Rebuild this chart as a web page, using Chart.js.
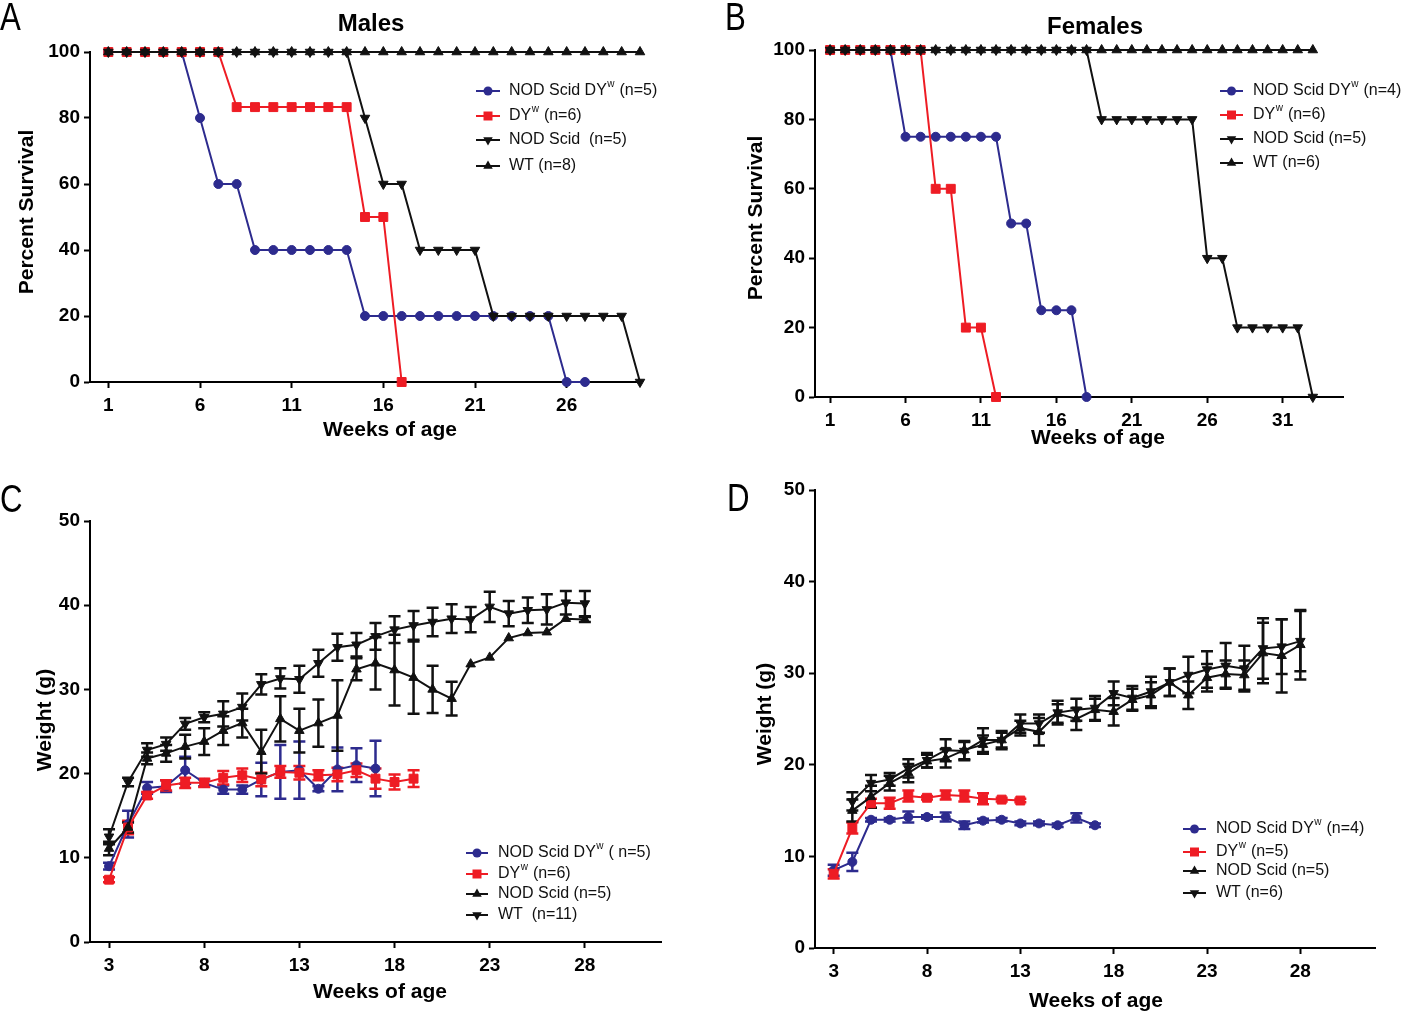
<!DOCTYPE html>
<html>
<head>
<meta charset="utf-8">
<script src="https://cdn.jsdelivr.net/npm/chart.js"></script>
<style>
  body { margin: 0; background: #fff; }
  #wrap { position: relative; width: 1418px; height: 1016px; }
  canvas { position: absolute; left: 0; top: 0; }
</style>
</head>
<body>
<div id="wrap">
  <canvas id="cA" width="1418" height="1016"></canvas>
  <canvas id="cB" width="1418" height="1016"></canvas>
  <canvas id="cC" width="1418" height="1016"></canvas>
  <canvas id="cD" width="1418" height="1016"></canvas>
</div>
<script>
const FONT = "'Liberation Sans', Arial, sans-serif";
const BLUE = '#2d2b8e', RED = '#ee1c24', BLACK = '#111111';

// ---- A: survival, males ----
const weeksA = [1,2,3,4,5,6,7,8,9,10,11,12,13,14,15,16,17,18,19,20,21,22,23,24,25,26,27,28,29,30];
const survA_nsdy = [100,100,100,100,100,80,60,60,40,40,40,40,40,40,20,20,20,20,20,20,20,20,20,20,20,0,0];
const survA_dy   = [100,100,100,100,100,100,100,83.3,83.3,83.3,83.3,83.3,83.3,83.3,50,50,0];
const survA_ns   = [100,100,100,100,100,100,100,100,100,100,100,100,100,100,80,60,60,40,40,40,40,20,20,20,20,20,20,20,20,0];
const survA_wt   = [100,100,100,100,100,100,100,100,100,100,100,100,100,100,100,100,100,100,100,100,100,100,100,100,100,100,100,100,100,100];
const legendA = ['NOD Scid DY^w (n=5)', 'DY^w (n=6)', 'NOD Scid  (n=5)', 'WT (n=8)'];

// ---- B: survival, females ----
const weeksB = [1,2,3,4,5,6,7,8,9,10,11,12,13,14,15,16,17,18,19,20,21,22,23,24,25,26,27,28,29,30,31,32,33];
const survB_nsdy = [100,100,100,100,100,75,75,75,75,75,75,75,50,50,25,25,25,0];
const survB_dy   = [100,100,100,100,100,100,100,60,60,20,20,0];
const survB_ns   = [100,100,100,100,100,100,100,100,100,100,100,100,100,100,100,100,100,100,80,80,80,80,80,80,80,40,40,20,20,20,20,20,0];
const survB_wt   = [100,100,100,100,100,100,100,100,100,100,100,100,100,100,100,100,100,100,100,100,100,100,100,100,100,100,100,100,100,100,100,100,100];
const legendB = ['NOD Scid DY^w (n=4)', 'DY^w (n=6)', 'NOD Scid (n=5)', 'WT (n=6)'];

const survTicksX_A = [1, 6, 11, 16, 21, 26];
const survTicksX_B = [1, 6, 11, 16, 21, 26, 31];
const survTicksY = [0, 20, 40, 60, 80, 100];

// ---- C: weight, males ----
const weeksC_nsdy = [3,4,5,6,7,8,9,10,11,12,13,14,15,16,17];
const wC_nsdy   = [9.0,14.0,18.3,18.5,20.4,18.9,18.1,18.1,19.3,20.2,20.4,18.2,20.5,21.0,20.6];
const errC_nsdy = [0.4,1.6,0.7,0.7,1.6,0.4,0.5,0.5,2.0,3.2,3.4,0.3,2.6,2.0,3.3];
const weeksC_dy = [3,4,5,6,7,8,9,10,11,12,13,14,15,16,17,18,19];
const wC_dy     = [7.4,13.6,17.4,18.6,18.9,18.9,19.5,19.8,19.3,20.2,20.1,19.8,19.9,20.4,19.4,19.0,19.4];
const errC_dy   = [0.3,0.8,0.4,0.6,0.6,0.5,0.8,0.8,0.8,0.7,0.8,0.6,0.8,0.8,1.2,0.9,1.0];
const weeksC_blk = [3,4,5,6,7,8,9,10,11,12,13,14,15,16,17,18,19,20,21,22,23,24,25,26,27,28];
const wC_ns     = [11.1,13.6,21.8,22.4,23.2,23.8,25.1,26.0,22.6,26.5,25.1,26.0,26.9,32.4,33.1,32.3,31.4,30.0,28.9,33.0,33.8,36.1,36.7,36.8,38.4,38.3];
const errC_ns   = [0.8,0.6,0.7,1.0,1.4,1.6,1.7,1.7,2.6,2.7,2.6,2.8,4.2,1.3,3.1,4.2,4.3,2.8,2.0,0,0,0,0,0,0,0.3];
const wC_wt     = [12.5,19.0,22.8,23.5,25.9,26.7,27.1,27.9,30.6,31.3,31.2,33.1,35.0,35.3,36.3,37.1,37.6,38.0,38.4,38.3,39.8,39.0,39.4,39.5,40.3,40.2];
const errC_wt   = [0.9,0.5,0.8,0.8,0.7,0.6,1.5,1.6,1.2,1.2,1.6,1.6,1.6,1.4,1.6,1.6,1.7,1.7,1.7,1.5,1.8,1.5,1.5,1.8,1.4,1.5];
const legendC = ['NOD Scid DY^w ( n=5)', 'DY^w (n=6)', 'NOD Scid (n=5)', 'WT  (n=11)'];

// ---- D: weight, females ----
const weeksD_nsdy = [3,4,5,6,7,8,9,10,11,12,13,14,15,16,17];
const wD_nsdy   = [8.5,9.4,14.0,14.0,14.3,14.3,14.3,13.4,13.9,14.0,13.6,13.6,13.4,14.2,13.4];
const errD_nsdy = [0.6,1.0,0.2,0.2,0.6,0.2,0.5,0.4,0.2,0.2,0.2,0.2,0.2,0.5,0.2];
const weeksD_dy = [3,4,5,6,7,8,9,10,11,12,13];
const wD_dy     = [8.1,13.1,15.8,15.8,16.6,16.4,16.7,16.6,16.3,16.2,16.1];
const errD_dy   = [0.5,0.6,0.5,0.6,0.6,0.2,0.5,0.6,0.6,0.2,0.2];
const weeksD_blk = [4,5,6,7,8,9,10,11,12,13,14,15,16,17,18,19,20,21,22,23,24,25,26,27,28];
const wD_ns     = [15.0,16.5,18.0,19.1,20.4,20.7,21.6,22.2,22.7,24.0,23.6,25.6,25.0,26.0,25.8,27.1,27.6,29.0,27.6,29.5,29.9,29.8,32.2,31.9,33.1];
const errD_ns   = [1.2,1.2,0.8,1.0,0.7,1.0,1.0,1.0,0.8,0.8,1.5,1.0,1.2,1.2,1.5,1.2,1.4,1.5,1.5,1.5,1.5,1.6,3.3,4.0,3.8];
const wD_wt     = [16.0,18.0,18.4,19.6,20.5,21.6,21.5,22.7,22.7,24.5,24.5,25.7,26.0,26.2,27.8,27.3,28.0,29.0,29.8,30.4,30.8,30.5,32.7,32.9,33.5];
const errD_wt   = [1.0,0.9,0.7,1.0,0.8,1.2,1.0,1.3,1.0,1.0,1.0,1.3,1.2,1.3,1.3,1.3,1.6,1.5,2.0,2.0,2.5,2.5,3.3,3.0,3.3];
const legendD = ['NOD Scid DY^w (n=4)', 'DY^w (n=5)', 'NOD Scid (n=5)', 'WT (n=6)'];

const weightTicksX = [3, 8, 13, 18, 23, 28];
const weightTicksY = [0, 10, 20, 30, 40, 50];

function pts(xs, ys) { return ys.map((y, i) => ({ x: xs[i], y: y })); }

function series(label, xs, ys, color, style, order, errors) {
  const ds = {
    label: label.replace('^', ''),
    data: pts(xs, ys),
    borderColor: color,
    backgroundColor: color,
    borderWidth: 2,
    pointStyle: style === 'down' ? 'triangle' : style,
    pointRotation: style === 'down' ? 180 : 0,
    pointRadius: style === 'circle' ? 4.5 : (style === 'rect' ? 6.3 : 5.5),
    pointBorderWidth: 1,
    tension: 0,
    clip: false,
    order: order,
    legendStyle: style
  };
  if (errors) ds.errors = errors;
  return ds;
}

const errorBars = {
  id: 'errorBars',
  beforeDatasetsDraw(chart) {
    const ctx = chart.ctx, x = chart.scales.x, y = chart.scales.y;
    chart.data.datasets.forEach(ds => {
      if (!ds.errors) return;
      ctx.save();
      ctx.strokeStyle = ds.borderColor;
      ctx.lineWidth = 2.5;
      ds.data.forEach((p, i) => {
        const e = ds.errors[i];
        if (!e) return;
        const px = x.getPixelForValue(p.x);
        const t = y.getPixelForValue(p.y + e), b = y.getPixelForValue(p.y - e);
        ctx.beginPath();
        ctx.moveTo(px, t); ctx.lineTo(px, b);
        ctx.moveTo(px - 6, t); ctx.lineTo(px + 6, t);
        ctx.moveTo(px - 6, b); ctx.lineTo(px + 6, b);
        ctx.stroke();
      });
      ctx.restore();
    });
  }
};

function drawMarker(ctx, style, x, y, color) {
  ctx.fillStyle = color;
  ctx.beginPath();
  if (style === 'circle') {
    ctx.arc(x, y, 4.5, 0, Math.PI * 2);
  } else if (style === 'rect') {
    ctx.rect(x - 4.5, y - 4.5, 9, 9);
  } else {
    const r = 5.5, s = style === 'down' ? -1 : 1;
    ctx.moveTo(x, y - s * r);
    ctx.lineTo(x + r * 0.866, y + s * r / 2);
    ctx.lineTo(x - r * 0.866, y + s * r / 2);
    ctx.closePath();
  }
  ctx.fill();
}

function makeDecor(d) {
  return {
    id: 'decor',
    afterDraw(chart) {
      const ctx = chart.ctx;
      ctx.save();
      ctx.fillStyle = '#000';
      ctx.textBaseline = 'alphabetic';
      ctx.textAlign = 'left';
      // panel letter, narrowed to look like the condensed face in the figure
      ctx.save();
      ctx.translate(d.letterX, d.letterY);
      ctx.scale(0.8, 1);
      ctx.font = "39px 'Liberation Sans', Arial, sans-serif";
      ctx.fillText(d.letter, 0, 0);
      ctx.restore();

      ctx.textAlign = 'center';
      ctx.textBaseline = 'middle';
      if (d.title) {
        ctx.font = 'bold 24px ' + FONT;
        ctx.fillText(d.title, d.titleX, d.titleY);
      }
      ctx.font = 'bold 21px ' + FONT;
      ctx.fillText(d.xTitle, d.xTitleX, d.xTitleY);
      ctx.save();
      ctx.translate(d.yTitleX, d.yTitleY);
      ctx.rotate(-Math.PI / 2);
      ctx.fillText(d.yTitle, 0, 0);
      ctx.restore();

      // legend
      const L = d.legend;
      chart.data.datasets.forEach((ds, i) => {
        const yy = L.rows[i];
        ctx.strokeStyle = ds.borderColor;
        ctx.lineWidth = 2;
        ctx.beginPath();
        ctx.moveTo(L.x0, yy); ctx.lineTo(L.x1, yy);
        ctx.stroke();
        drawMarker(ctx, ds.legendStyle, (L.x0 + L.x1) / 2, yy, ds.borderColor);
        ctx.fillStyle = '#111';
        ctx.textAlign = 'left';
        ctx.textBaseline = 'middle';
        const parts = L.labels[i].split('^w');
        let tx = L.tx;
        ctx.font = '16px ' + FONT;
        ctx.fillText(parts[0], tx, yy);
        tx += ctx.measureText(parts[0]).width;
        if (parts.length > 1) {
          ctx.font = '10px ' + FONT;
          ctx.fillText('w', tx + 0.5, yy - 7);
          tx += ctx.measureText('w').width + 1;
          ctx.font = '16px ' + FONT;
          ctx.fillText(parts[1], tx, yy);
        }
      });
      ctx.restore();
    }
  };
}

function makeChart(id, box, xMin, xMax, xTicks, yMax, yTicks, datasets, decor) {
  const W = 1418, H = 1016;
  const tickFont = { family: FONT, size: 19, weight: 'bold' };
  const grid = { drawOnChartArea: false, drawTicks: true, tickLength: 6, tickWidth: 2, tickColor: '#000', color: '#000' };
  const border = { display: true, color: '#000', width: 2 };
  return new Chart(document.getElementById(id), {
    type: 'line',
    data: { datasets: datasets },
    options: {
      responsive: false,
      animation: false,
      devicePixelRatio: 1,
      layout: { padding: { top: box.top, right: W - box.right, left: 0, bottom: 0 } },
      plugins: { legend: { display: false }, tooltip: { enabled: false } },
      scales: {
        x: {
          type: 'linear', min: xMin, max: xMax,
          afterBuildTicks: s => { s.ticks = xTicks.map(v => ({ value: v })); },
          afterFit: s => { s.height = H - box.bottom; },
          ticks: { color: '#000', font: tickFont, padding: 6, autoSkip: false, maxRotation: 0 },
          grid: grid, border: border
        },
        y: {
          min: 0, max: yMax,
          afterBuildTicks: s => { s.ticks = yTicks.map(v => ({ value: v })); },
          afterFit: s => { s.width = box.left; },
          ticks: { color: '#000', font: tickFont, padding: 4 },
          grid: grid, border: border
        }
      }
    },
    plugins: [errorBars, makeDecor(decor)]
  });
}

makeChart('cA', { left: 90, right: 640, top: 52, bottom: 382 }, 0, 30, survTicksX_A, 100, survTicksY, [
  series(legendA[0], weeksA, survA_nsdy, BLUE, 'circle', 4),
  series(legendA[1], weeksA, survA_dy, RED, 'rect', 3),
  series(legendA[2], weeksA, survA_ns, BLACK, 'down', 2),
  series(legendA[3], weeksA, survA_wt, BLACK, 'triangle', 1)
], {
  letter: 'A', letterX: 0, letterY: 30,
  title: 'Males', titleX: 371, titleY: 24,
  xTitle: 'Weeks of age', xTitleX: 390, xTitleY: 430,
  yTitle: 'Percent Survival', yTitleX: 27, yTitleY: 212,
  legend: { x0: 476, x1: 500, tx: 509, rows: [91, 116, 140, 166], labels: legendA }
});

makeChart('cB', { left: 815, right: 1343, top: 50, bottom: 397 }, 0, 35, survTicksX_B, 100, survTicksY, [
  series(legendB[0], weeksB, survB_nsdy, BLUE, 'circle', 4),
  series(legendB[1], weeksB, survB_dy, RED, 'rect', 3),
  series(legendB[2], weeksB, survB_ns, BLACK, 'down', 2),
  series(legendB[3], weeksB, survB_wt, BLACK, 'triangle', 1)
], {
  letter: 'B', letterX: 725, letterY: 30,
  title: 'Females', titleX: 1095, titleY: 27,
  xTitle: 'Weeks of age', xTitleX: 1098, xTitleY: 438,
  yTitle: 'Percent Survival', yTitleX: 756, yTitleY: 218,
  legend: { x0: 1220, x1: 1243, tx: 1253, rows: [91, 115, 139, 163], labels: legendB }
});

makeChart('cC', { left: 90, right: 661, top: 521, bottom: 942 }, 2, 32, weightTicksX, 50, weightTicksY, [
  series(legendC[0], weeksC_nsdy, wC_nsdy, BLUE, 'circle', 3, errC_nsdy),
  series(legendC[1], weeksC_dy, wC_dy, RED, 'rect', 2, errC_dy),
  series(legendC[2], weeksC_blk, wC_ns, BLACK, 'triangle', 1, errC_ns),
  series(legendC[3], weeksC_blk, wC_wt, BLACK, 'down', 0, errC_wt)
], {
  letter: 'C', letterX: 0, letterY: 512,
  xTitle: 'Weeks of age', xTitleX: 380, xTitleY: 992,
  yTitle: 'Weight (g)', yTitleX: 45, yTitleY: 720,
  legend: { x0: 466, x1: 488, tx: 498, rows: [853, 874, 894, 915], labels: legendC }
});

makeChart('cD', { left: 815, right: 1375, top: 490, bottom: 948 }, 2, 32, weightTicksX, 50, weightTicksY, [
  series(legendD[0], weeksD_nsdy, wD_nsdy, BLUE, 'circle', 3, errD_nsdy),
  series(legendD[1], weeksD_dy, wD_dy, RED, 'rect', 2, errD_dy),
  series(legendD[2], weeksD_blk, wD_ns, BLACK, 'triangle', 1, errD_ns),
  series(legendD[3], weeksD_blk, wD_wt, BLACK, 'down', 0, errD_wt)
], {
  letter: 'D', letterX: 727, letterY: 511,
  xTitle: 'Weeks of age', xTitleX: 1096, xTitleY: 1001,
  yTitle: 'Weight (g)', yTitleX: 765, yTitleY: 714,
  legend: { x0: 1183, x1: 1206, tx: 1216, rows: [829, 852, 871, 893], labels: legendD }
});
</script>
</body>
</html>
